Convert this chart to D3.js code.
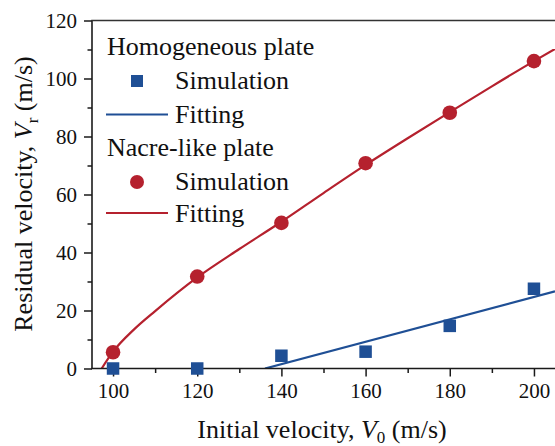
<!DOCTYPE html>
<html>
<head>
<meta charset="utf-8">
<script src="https://cdn.jsdelivr.net/npm/d3@7"></script>
<style>
  html, body { margin: 0; padding: 0; background: #fff; }
  svg { display: block; }
  text { font-family: "Liberation Serif", "Times New Roman", serif; fill: #111; }
</style>
</head>
<body>
<svg id="chart" width="555" height="446"></svg>
<script>
// Initial velocities (m/s)
const initialVelocity = [100, 120, 140, 160, 180, 200];

// Residual velocities from simulation (m/s)
const homogeneousSim = [0, 0, 4.4, 5.8, 14.7, 27.5];
const nacreSim = [5.6, 31.7, 50.2, 70.8, 88.2, 106.0];

// Fitted curves, sampled as [V0, Vr] pairs
const homogeneousFit = [[136.1, 0], [205, 26.6]];
const nacreFitV0 = [97.3, 100, 105, 110, 120, 130, 140, 150, 160, 170, 180, 190, 200, 205];
const nacreFitVr = [0, 5.8, 13.5, 19.8, 31.4, 41.2, 50.6, 60.5, 70.2, 79.4, 88.4, 97.3, 106.0, 110.2];

// Axis ticks
const xMajorTicks = [100, 120, 140, 160, 180, 200];
const xMinorTicks = [110, 130, 150, 170, 190];
const yMajorTicks = [0, 20, 40, 60, 80, 100, 120];
const yMinorTicks = [10, 30, 50, 70, 90, 110];

const blue = "#1f4f95";
const red = "#b5212e";

const svg = d3.select("#chart");
const plotLeft = 92, plotRight = 555, plotTop = 20.5, plotBottom = 368.5;

const x = d3.scaleLinear().domain([95, 205]).range([plotLeft, plotRight]);
const y = d3.scaleLinear().domain([0, 120]).range([plotBottom, plotTop]);

// Clip region for the data
svg.append("defs").append("clipPath").attr("id", "plot-clip")
  .append("rect").attr("x", plotLeft).attr("y", plotTop)
  .attr("width", plotRight - plotLeft).attr("height", plotBottom - plotTop);

const plot = svg.append("g").attr("clip-path", "url(#plot-clip)");

// Fitted lines
const straight = d3.line().x(d => x(d[0])).y(d => y(d[1]));
const smooth = d3.line().x(d => x(d[0])).y(d => y(d[1])).curve(d3.curveMonotoneX);

plot.append("path")
  .datum(homogeneousFit)
  .attr("d", straight)
  .attr("fill", "none").attr("stroke", blue).attr("stroke-width", 2.2);

plot.append("path")
  .datum(nacreFitV0.map((v, i) => [v, nacreFitVr[i]]))
  .attr("d", smooth)
  .attr("fill", "none").attr("stroke", red).attr("stroke-width", 2.2);

// Axes
const axisColor = "#1a1a1a";
function styleAxis(g) {
  g.select(".domain").remove();
  g.selectAll("line").attr("stroke", axisColor).attr("stroke-width", 1.5);
  g.selectAll("text").style("font-size", "21px").attr("fill", "#111")
    .style("font-family", "'Liberation Serif', 'Times New Roman', serif");
}

svg.append("g").attr("transform", `translate(0,${plotBottom})`)
  .call(d3.axisBottom(x).tickValues(xMinorTicks).tickSize(4.5).tickFormat(""))
  .call(styleAxis);
svg.append("g").attr("transform", `translate(0,${plotBottom})`)
  .call(d3.axisBottom(x).tickValues(xMajorTicks).tickSize(8).tickPadding(7))
  .call(styleAxis);

svg.append("g").attr("transform", `translate(${plotLeft},0)`)
  .call(d3.axisLeft(y).tickValues(yMinorTicks).tickSize(4.5).tickFormat(""))
  .call(styleAxis);
svg.append("g").attr("transform", `translate(${plotLeft},0)`)
  .call(d3.axisLeft(y).tickValues(yMajorTicks).tickSize(8).tickPadding(7))
  .call(styleAxis);

// Frame: left axis, bottom axis, top border
svg.append("line").attr("x1", plotLeft).attr("x2", plotLeft).attr("y1", plotTop).attr("y2", plotBottom)
  .attr("stroke", axisColor).attr("stroke-width", 1.6);
svg.append("line").attr("x1", plotLeft - 0.8).attr("x2", plotRight).attr("y1", plotBottom).attr("y2", plotBottom)
  .attr("stroke", axisColor).attr("stroke-width", 1.6);
svg.append("line").attr("x1", plotLeft - 0.8).attr("x2", plotRight).attr("y1", plotTop).attr("y2", plotTop)
  .attr("stroke", "#333").attr("stroke-width", 1.6);

// Simulation markers (drawn unclipped so points on the axis stay whole)
const sq = 12.5;
svg.selectAll("rect.homog")
  .data(initialVelocity.map((v, i) => [v, homogeneousSim[i]]))
  .join("rect").attr("class", "homog")
  .attr("x", d => x(d[0]) - sq / 2).attr("y", d => y(d[1]) - sq / 2)
  .attr("width", sq).attr("height", sq).attr("fill", blue);

svg.selectAll("circle.nacre")
  .data(initialVelocity.map((v, i) => [v, nacreSim[i]]))
  .join("circle").attr("class", "nacre")
  .attr("cx", d => x(d[0])).attr("cy", d => y(d[1]))
  .attr("r", 7.3).attr("fill", red);

// Axis titles
const xTitle = svg.append("text")
  .attr("x", 322).attr("y", 437.5)
  .attr("text-anchor", "middle").style("font-size", "26px");
xTitle.append("tspan").text("Initial velocity, ");
xTitle.append("tspan").style("font-style", "italic").text("V");
xTitle.append("tspan").attr("dy", 5).style("font-size", "17px").text("0");
xTitle.append("tspan").attr("dy", -5).text(" (m/s)");

const yTitle = svg.append("text")
  .attr("transform", "translate(32,194) rotate(-90)")
  .attr("text-anchor", "middle").style("font-size", "26px");
yTitle.append("tspan").text("Residual velocity, ");
yTitle.append("tspan").style("font-style", "italic").text("V");
yTitle.append("tspan").attr("dy", 6).style("font-size", "17px").text("r");
yTitle.append("tspan").attr("dy", -6).text(" (m/s)");

// Legend
const legend = svg.append("g");
const lx = 107, symX = 137, textX = 175;
legend.append("text").attr("x", lx).attr("y", 55).style("font-size", "26px").text("Homogeneous plate");
legend.append("rect").attr("x", symX - 6).attr("y", 81 - 6).attr("width", 12).attr("height", 12).attr("fill", blue);
legend.append("text").attr("x", textX).attr("y", 88.5).style("font-size", "26px").text("Simulation");
legend.append("line").attr("x1", 106).attr("x2", 168).attr("y1", 114.5).attr("y2", 114.5)
  .attr("stroke", blue).attr("stroke-width", 2.2);
legend.append("text").attr("x", textX).attr("y", 122.5).style("font-size", "26px").text("Fitting");

legend.append("text").attr("x", lx).attr("y", 156).style("font-size", "26px").text("Nacre-like plate");
legend.append("circle").attr("cx", symX).attr("cy", 182).attr("r", 7).attr("fill", red);
legend.append("text").attr("x", textX).attr("y", 189.5).style("font-size", "26px").text("Simulation");
legend.append("line").attr("x1", 106).attr("x2", 168).attr("y1", 213).attr("y2", 213)
  .attr("stroke", red).attr("stroke-width", 2.2);
legend.append("text").attr("x", textX).attr("y", 221.5).style("font-size", "26px").text("Fitting");
</script>
</body>
</html>
